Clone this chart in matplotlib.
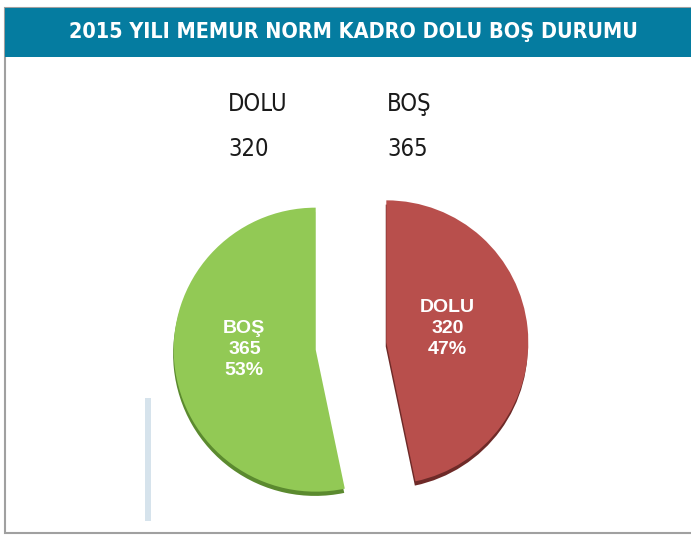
import matplotlib.pyplot as plt
from matplotlib.patches import Rectangle

# dados
categorias = ['DOLU', 'BOŞ']
valores = [320, 365]
cores = ['#b84f4c', '#92c955']
cores_sombra = ['#6e2a28', '#5b8a2f']
titulo = '2015 YILI MEMUR NORM KADRO DOLU BOŞ DURUMU'

W, H = 691, 538

fig = plt.figure(figsize=(W / 100, H / 100), dpi=100)
fig.patch.set_facecolor('white')

# moldura cinza e faixa do titulo
fig.patches.append(Rectangle((5 / W, 5 / H), 1.2, (530 - 5) / H, transform=fig.transFigure,
                             facecolor='white', edgecolor='#a0a0a0', linewidth=1.5, zorder=-10))
fig.patches.append(Rectangle((5 / W, 1 - 57 / H), 1.0, 49 / H, transform=fig.transFigure,
                             facecolor='#057ca0', edgecolor='none', zorder=-5))
fig.text(353 / W, 1 - 32 / H, titulo, color='white', fontsize=15.5, fontweight='bold',
         family='DejaVu Sans', fontstretch='condensed', ha='center', va='center')

# linha azul clara a esquerda
fig.patches.append(Rectangle((145 / W, 1 - 521 / H), 6 / W, 123 / H, transform=fig.transFigure,
                             facecolor='#d6e3ec', edgecolor='none', zorder=-5))

# textos de cima (categoria / valor)
xs_txt = [228, 387]
for x, cat, v in zip(xs_txt, categorias, valores):
    fig.text(x / W, 1 - 104 / H, cat, fontsize=17, family='DejaVu Sans', fontstretch='condensed',
             color='#1a1a1a', ha='left', va='center')
    fig.text(x / W, 1 - 149 / H, str(v), fontsize=17, family='DejaVu Sans', fontstretch='condensed',
             color='#1a1a1a', ha='left', va='center')

# pizza
r_px = 142
cx, cy = 351, 346
half = 200
ax = fig.add_axes([(cx - half) / W, (H - cy - half) / H, 2 * half / W, 2 * half / H])
lim = half / r_px
explode = [0.25, 0.25]

total = sum(valores)

def rotulo(pct):
    i = min(range(len(valores)), key=lambda k: abs(valores[k] / total * 100 - pct))
    return f'{categorias[i]}\n{valores[i]}\n{pct:.0f}%'

# sombra (efeito 3D)
ax.pie(valores, colors=cores_sombra, explode=explode, startangle=90, counterclock=False,
       center=(-0.004, -0.03), wedgeprops=dict(linewidth=0))
wedges, textos, pcts = ax.pie(valores, colors=cores, explode=explode, startangle=90,
                              counterclock=False, autopct=rotulo, pctdistance=0.47,
                              wedgeprops=dict(linewidth=0),
                              textprops=dict(color='white', fontsize=14, fontweight='bold',
                                             family='Liberation Sans', linespacing=1.3))
for t in pcts:
    x, y = t.get_position()
    t.set_position((x - 0.035, y + 0.05))
ax.set_xlim(-lim, lim)
ax.set_ylim(-lim, lim)
ax.axis('off')

fig.savefig('out.png', dpi=100)
